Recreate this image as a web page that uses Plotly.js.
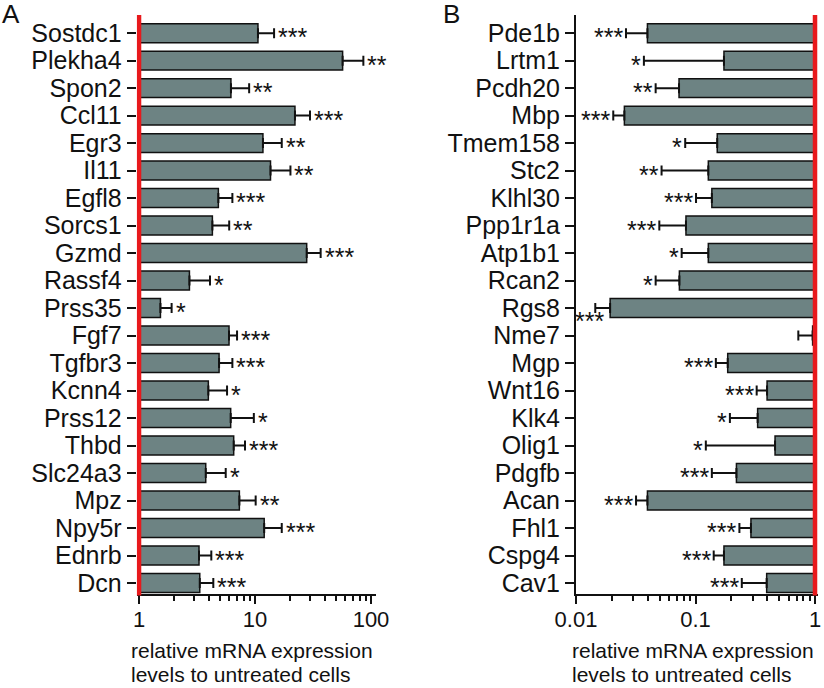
<!DOCTYPE html>
<html>
<head>
<meta charset="utf-8">
<script src="https://cdn.plot.ly/plotly-3.0.1.min.js"></script>
<style>
  body { margin: 0; background: #fff; }
  #plotArea { width: 824px; height: 688px; }
</style>
</head>
<body>
<div id="plotArea"></div>
<script>
// Panel A - up-regulated genes
var genesA = ["Sostdc1", "Plekha4", "Spon2", "Ccl11", "Egr3", "Il11", "Egfl8", "Sorcs1", "Gzmd", "Rassf4", "Prss35",
  "Fgf7", "Tgfbr3", "Kcnn4", "Prss12", "Thbd", "Slc24a3", "Mpz", "Npy5r", "Ednrb", "Dcn"];
var valuesA = [10.6, 56.9, 6.2, 22.1, 11.7, 13.6, 4.83, 4.29, 27.9, 2.72, 1.53,
  5.97, 4.9, 3.96, 6.17, 6.55, 3.76, 7.33, 12.0, 3.29, 3.34];
var errorsA = [4.0, 29.0, 2.7, 7.7, 5.3, 6.6, 1.55, 1.7, 8.9, 1.37, 0.38,
  1.03, 1.48, 1.78, 3.6, 1.65, 1.83, 2.8, 5.0, 0.91, 1.03];
var starsA = ["***", "**", "**", "***", "**", "**", "***", "**", "***", "*", "*",
  "***", "***", "*", "*", "***", "*", "**", "***", "***", "***"];

// Panel B - down-regulated genes
var genesB = ["Pde1b", "Lrtm1", "Pcdh20", "Mbp", "Tmem158", "Stc2", "Klhl30", "Ppp1r1a", "Atp1b1", "Rcan2", "Rgs8",
  "Nme7", "Mgp", "Wnt16", "Klk4", "Olig1", "Pdgfb", "Acan", "Fhl1", "Cspg4", "Cav1"];
var valuesB = [0.0396, 0.173, 0.0728, 0.0254, 0.152, 0.128, 0.137, 0.0832, 0.128, 0.0733, 0.0193,
  0.955, 0.186, 0.397, 0.331, 0.463, 0.22, 0.0396, 0.291, 0.173, 0.394];
var errorsB = [0.0134, 0.136, 0.0264, 0.0049, 0.070, 0.076, 0.036, 0.0334, 0.0514, 0.0269, 0.0048,
  0.23, 0.038, 0.072, 0.137, 0.341, 0.083, 0.0078, 0.058, 0.031, 0.15];
var starsB = ["***", "*", "**", "***", "*", "**", "***", "***", "*", "*", "***",
  "", "***", "***", "*", "*", "***", "***", "***", "***", "***"];

var barColor = "#6d8383";
var fontFam = "Liberation Sans, Arial, sans-serif";

var traceA = {
  type: "bar",
  orientation: "h",
  y: genesA,
  x: valuesA.map(function(v) { return v - 1; }),
  base: 1,
  xaxis: "x", yaxis: "y",
  marker: {color: barColor, line: {color: "#111", width: 1.5}},
  error_x: {type: "data", array: errorsA, arrayminus: errorsA.map(function() { return 0; }),
    symmetric: false, color: "#111", thickness: 2, width: 5},
  textposition: "none"
};

var traceB = {
  type: "bar",
  orientation: "h",
  y: genesB,
  x: valuesB.map(function(v) { return v - 1; }),
  base: 1,
  xaxis: "x2", yaxis: "y2",
  marker: {color: barColor, line: {color: "#111", width: 1.5}},
  error_x: {type: "data", array: errorsB.map(function() { return 0; }), arrayminus: errorsB,
    symmetric: false, color: "#111", thickness: 2, width: 5},
  textposition: "none"
};

// significance stars next to the error bar caps
var starFont = {family: fontFam, size: 25, color: "#111"};
var annotations = [];
genesA.forEach(function(g, i) {
  annotations.push({
    xref: "x", yref: "y", x: Math.log10(valuesA[i] + errorsA[i]), y: g,
    text: starsA[i], showarrow: false, xanchor: "left", yanchor: "middle",
    xshift: 2, yshift: -4, font: starFont
  });
});
genesB.forEach(function(g, i) {
  if (!starsB[i]) return;
  var low = g === "Rgs8";
  annotations.push({
    xref: "x2", yref: "y2", x: Math.log10(valuesB[i] - errorsB[i]), y: g,
    text: starsB[i], showarrow: false, xanchor: "right", yanchor: "middle",
    xshift: low ? 11 : -1, yshift: low ? -13 : -4, font: starFont
  });
});

// panel letters and axis titles (two lines each, tight spacing)
var titleFont = {family: fontFam, size: 21, color: "#111"};
annotations.push(
  {xref: "paper", yref: "paper", x: 0, y: 1.005, xanchor: "left", yanchor: "top", text: "A", showarrow: false,
    font: {family: fontFam, size: 26, color: "#111"}},
  {xref: "paper", yref: "paper", x: 441 / 824, y: 1.005, xanchor: "left", yanchor: "top", text: "B", showarrow: false,
    font: {family: fontFam, size: 26, color: "#111"}},
  {xref: "paper", yref: "paper", x: 129 / 824, y: 24 / 688, xanchor: "left", yanchor: "bottom",
    text: "relative mRNA expression", showarrow: false, font: titleFont},
  {xref: "paper", yref: "paper", x: 129 / 824, y: 0.5 / 688, xanchor: "left", yanchor: "bottom",
    text: "levels to untreated cells", showarrow: false, font: titleFont},
  {xref: "paper", yref: "paper", x: 570 / 824, y: 24 / 688, xanchor: "left", yanchor: "bottom",
    text: "relative mRNA expression", showarrow: false, font: titleFont},
  {xref: "paper", yref: "paper", x: 570 / 824, y: 0.5 / 688, xanchor: "left", yanchor: "bottom",
    text: "levels to untreated cells", showarrow: false, font: titleFont}
);

var yDom = [1 - 594 / 688, 1 - 15 / 688];
var minorA = [2, 3, 4, 5, 6, 7, 8, 9, 20, 30, 40, 50, 60, 70, 80, 90];
var minorB = [0.02, 0.03, 0.04, 0.05, 0.06, 0.07, 0.08, 0.09, 0.2, 0.3, 0.4, 0.5, 0.6, 0.7, 0.8, 0.9];

var axisCommon = {
  type: "log",
  showgrid: false, zeroline: false,
  showline: true, linecolor: "#111", linewidth: 2,
  ticks: "outside", ticklen: 8, tickwidth: 2, tickcolor: "#111",
  ticklabelstandoff: -3,
  tickfont: {family: fontFam, size: 22, color: "#111"},
  automargin: false, fixedrange: true
};

var yCommon = {
  domain: yDom, type: "category", range: [20.4, -0.66],
  showgrid: false, zeroline: false,
  ticks: "outside", ticklen: 9, tickwidth: 2, tickcolor: "#111",
  tickfont: {family: fontFam, size: 25, color: "#111"},
  automargin: false, fixedrange: true
};

var layout = {
  width: 824, height: 688,
  margin: {l: 0, r: 0, t: 0, b: 0},
  paper_bgcolor: "#fff", plot_bgcolor: "#fff",
  showlegend: false,
  bargap: 0.31,
  font: {family: fontFam, color: "#111"},
  xaxis: Object.assign({}, axisCommon, {
    domain: [136.7 / 824, 376 / 824], range: [-0.02, 2.043], anchor: "y",
    tickvals: [1, 10, 100], ticktext: ["1", "10", "100"],
    minor: {tickmode: "array", tickvals: minorA, ticks: "outside", ticklen: 5, tickwidth: 2, tickcolor: "#111"}
  }),
  xaxis2: Object.assign({}, axisCommon, {
    domain: [576 / 824, 818 / 824], range: [-2, 0.025], anchor: "y2",
    tickvals: [0.01, 0.1, 1], ticktext: ["0.01", "0.1", "1"],
    minor: {tickmode: "array", tickvals: minorB, ticks: "outside", ticklen: 5, tickwidth: 2, tickcolor: "#111"}
  }),
  yaxis: Object.assign({}, yCommon, {
    anchor: "x", showline: false, tickmode: "array", tickvals: genesA, ticktext: genesA
  }),
  yaxis2: Object.assign({}, yCommon, {
    anchor: "x2", showline: true, linecolor: "#111", linewidth: 2,
    tickmode: "array", tickvals: genesB, ticktext: genesB
  }),
  shapes: [
    {type: "line", xref: "x", yref: "paper", x0: 1, x1: 1, y0: yDom[0] - 0.002, y1: yDom[1],
      line: {color: "#e8191c", width: 4.5}, layer: "above"},
    {type: "line", xref: "x2", yref: "paper", x0: 1, x1: 1, y0: yDom[0] - 0.002, y1: yDom[1],
      line: {color: "#e8191c", width: 4.5}, layer: "above"}
  ],
  annotations: annotations
};

Plotly.newPlot("plotArea", [traceA, traceB], layout, {displayModeBar: false, staticPlot: true});
</script>
</body>
</html>
